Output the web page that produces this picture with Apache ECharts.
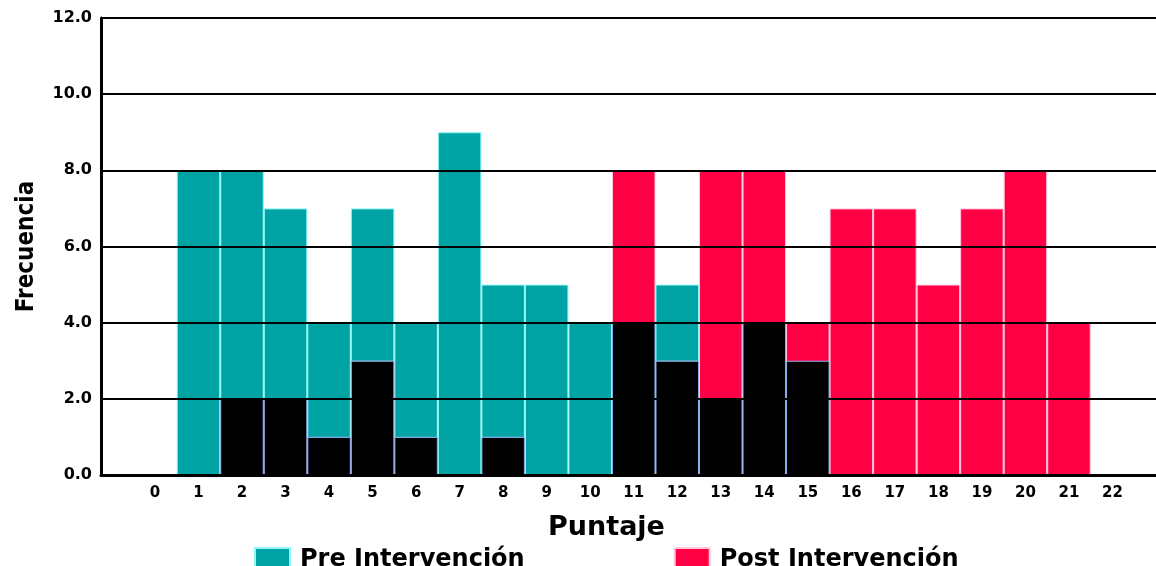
<!DOCTYPE html>
<html>
<head>
<meta charset="utf-8">
<script src="https://cdn.jsdelivr.net/npm/echarts@6/dist/echarts.min.js"></script>
<style>
  html, body { margin: 0; padding: 0; background: #fff; }
  #chart { width: 1156px; height: 566px; }
</style>
</head>
<body>
<div id="chart"></div>
<script>
// Puntaje (score) categories
const scores = [0, 1, 2, 3, 4, 5, 6, 7, 8, 9, 10, 11, 12, 13, 14, 15, 16, 17, 18, 19, 20, 21, 22]
// frequency per score
const preValues = [0, 8, 8, 7, 4, 7, 4, 9, 5, 5, 4, 4, 5, 2, 4, 3, 0, 0, 0, 0, 0, 0, 0]
const postValues = [0, 0, 2, 2, 1, 3, 1, 0, 1, 0, 0, 8, 3, 8, 8, 4, 7, 7, 5, 7, 8, 4, 0]
const yTicks = [0, 2, 4, 6, 8, 10, 12]

const TEAL = '#00a3a3'
const RED = '#ff0045'
const BOLD = 'DejaVu Sans'

// overlap of both distributions is drawn in black
const overlap = preValues.map((v, i) => Math.min(v, postValues[i]))
const toPairs = (arr) => scores.map((s, i) => [s, arr[i]])

const chart = echarts.init(document.getElementById('chart'))

chart.setOption({
  animation: false,
  grid: { left: 101, right: 0, top: 18, bottom: 91 },
  title: {
    text: 'Puntaje',
    left: 543,
    top: 509,
    textStyle: { fontFamily: BOLD, fontWeight: 'bold', fontSize: 27, color: '#000' }
  },
  legend: {
    data: ['Pre Intervención', 'Post Intervención'],
    left: 254,
    top: 547,
    padding: 0,
    icon: 'rect',
    itemWidth: 35,
    itemHeight: 24,
    itemGap: 149,
    textStyle: {
      fontFamily: BOLD,
      fontWeight: 'bold',
      fontSize: 24,
      color: '#000',
      padding: [0, 0, 0, 5]
    }
  },
  xAxis: {
    type: 'value',
    min: -1.24,
    max: 23,
    z: 10,
    axisLine: { show: true, onZero: false, lineStyle: { color: '#000', width: 3 } },
    axisTick: { show: false },
    splitLine: { show: false },
    axisLabel: {
      customValues: scores,
      margin: 11,
      fontFamily: BOLD,
      fontWeight: 'bold',
      fontSize: 15,
      color: '#000'
    }
  },
  yAxis: {
    type: 'value',
    min: 0,
    max: 12,
    interval: 2,
    z: 10,
    name: 'Frecuencia',
    nameLocation: 'middle',
    nameGap: 62,
    nameRotate: 90,
    nameTextStyle: {
      fontFamily: "'Liberation Sans Narrow', 'DejaVu Sans Condensed', sans-serif",
      fontWeight: 'bold',
      fontSize: 24,
      color: '#000'
    },
    axisLine: { show: true, onZero: false, lineStyle: { color: '#000', width: 3 } },
    axisTick: { show: false },
    splitLine: { show: true, lineStyle: { color: '#000', width: 2 } },
    axisLabel: {
      customValues: yTicks,
      margin: 9,
      fontFamily: BOLD,
      fontWeight: 'bold',
      fontSize: 16,
      color: '#000',
      formatter: (v) => v.toFixed(1)
    }
  },
  series: [
    {
      name: 'Pre Intervención',
      type: 'bar',
      barWidth: 43.5,
      barGap: '-100%',
      data: toPairs(preValues),
      itemStyle: { color: TEAL, borderColor: '#8ff7f7', borderWidth: 1 }
    },
    {
      name: 'Post Intervención',
      type: 'bar',
      barWidth: 43.5,
      barGap: '-100%',
      data: toPairs(postValues),
      itemStyle: { color: RED, borderColor: '#ffc8dc', borderWidth: 1 }
    },
    {
      name: 'Overlap',
      type: 'bar',
      barWidth: 43.5,
      barGap: '-100%',
      data: toPairs(overlap),
      itemStyle: { color: '#000', borderColor: '#8ab0f0', borderWidth: 1 }
    }
  ]
})
</script>
</body>
</html>
